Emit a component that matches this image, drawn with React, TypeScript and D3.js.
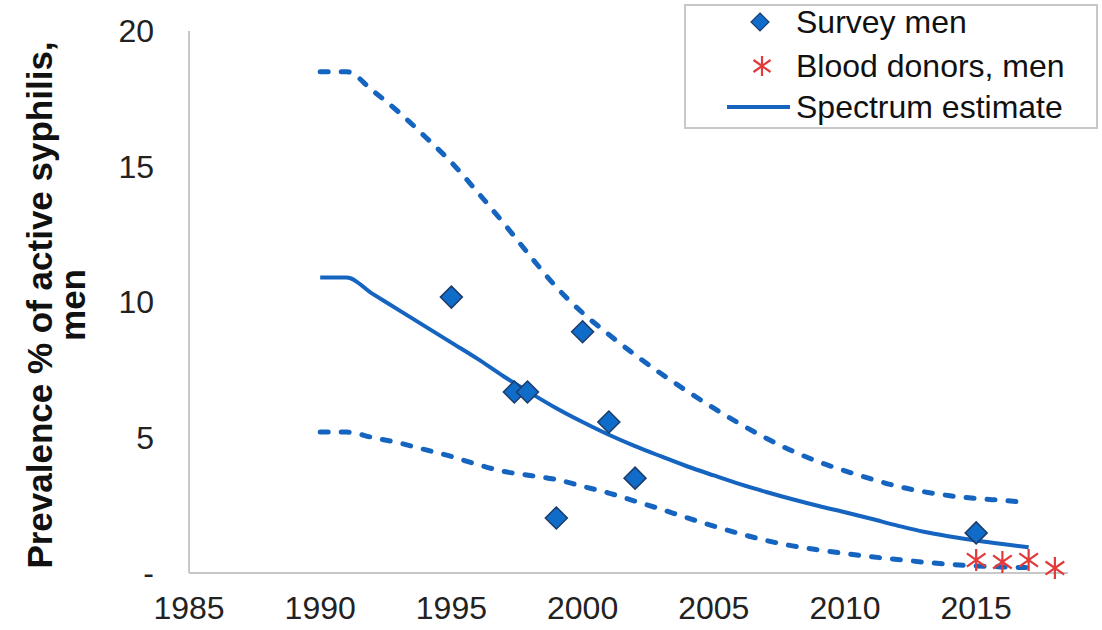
import React from "react";
import * as d3 from "d3";

const years = [1990, 1991, 1992, 1993, 1994, 1995, 1996, 1997, 1998, 1999, 2000, 2001, 2002, 2003, 2004, 2005, 2006, 2007, 2008, 2009, 2010, 2011, 2012, 2013, 2014, 2015, 2016, 2017];
const estimate = [10.9, 10.9, 10.3, 9.7, 9.1, 8.5, 7.9, 7.25, 6.65, 6.08, 5.57, 5.1, 4.68, 4.3, 3.93, 3.6, 3.28, 2.99, 2.72, 2.47, 2.24, 2.0, 1.75, 1.52, 1.35, 1.2, 1.07, 0.95];
const upper = [18.5, 18.5, 17.8, 17.0, 16.1, 15.15, 14.05, 12.9, 11.7, 10.55, 9.6, 8.8, 8.05, 7.35, 6.7, 6.08, 5.5, 4.97, 4.5, 4.1, 3.77, 3.47, 3.2, 3.0, 2.85, 2.75, 2.68, 2.6];
const lower = [5.2, 5.2, 5.0, 4.8, 4.55, 4.3, 4.0, 3.75, 3.6, 3.45, 3.2, 2.95, 2.65, 2.35, 2.03, 1.73, 1.45, 1.2, 1.0, 0.85, 0.72, 0.6, 0.5, 0.4, 0.32, 0.26, 0.22, 0.2];

const surveyYears = [1995, 1997.4, 1997.9, 1999, 2000, 2001, 2002, 2015];
const surveyValues = [10.18, 6.68, 6.68, 2.03, 8.9, 5.57, 3.5, 1.48];

const donorYears = [2015, 2016, 2017, 2018];
const donorValues = [0.48, 0.41, 0.48, 0.18];

const xTicks = [1985, 1990, 1995, 2000, 2005, 2010, 2015];
const yTicks = [0, 5, 10, 15, 20];
const yTickLabels = ["-", "5", "10", "15", "20"];

const legendLabels = ["Survey men", "Blood donors, men", "Spectrum estimate"];

const BLUE = "#1464c0";
const FONT = "'Liberation Sans', Arial, sans-serif";

export default function App() {
  const x = d3.scaleLinear().domain([1985, 2018.5]).range([189, 1068]);
  const y = d3.scaleLinear().domain([0, 20]).range([573, 31]);

  const line = d3
    .line<number>()
    .x((_, i) => x(years[i]))
    .y((d) => y(d))
    .curve(d3.curveMonotoneX);

  const diamond = (cx: number, cy: number, r: number) =>
    `M${cx},${cy - r}L${cx + r},${cy}L${cx},${cy + r}L${cx - r},${cy}Z`;
  const star = (cx: number, cy: number, r: number) =>
    `M${cx},${cy - r}L${cx},${cy + r}M${cx - r * 0.85},${cy - r * 0.6}L${cx + r * 0.85},${cy + r * 0.6}M${cx - r * 0.85},${cy + r * 0.6}L${cx + r * 0.85},${cy - r * 0.6}`;

  return (
    <svg width={1102} height={630} style={{ position: "absolute", left: 0, top: 0, background: "#fff" }} fontFamily={FONT}>
      <rect x={0} y={0} width={1102} height={630} fill="#fff" />
      {/* axes */}
      <line x1={x(1985)} x2={x(1985)} y1={y(20)} y2={y(0)} stroke="#c8c8c8" strokeWidth={2} />
      <line x1={x(1985)} x2={x(2018.5)} y1={y(0)} y2={y(0)} stroke="#c8c8c8" strokeWidth={2} />
      {yTicks.map((t, i) => (
        <text key={t} x={154} y={y(t)} dy="0.35em" textAnchor="end" fontSize={32} fill="#222">
          {yTickLabels[i]}
        </text>
      ))}
      {xTicks.map((t) => (
        <text key={t} x={x(t)} y={619} textAnchor="middle" fontSize={32} fill="#222">
          {t}
        </text>
      ))}
      <g transform="translate(40,305) rotate(-90)">
        <text x={0} y={0} dy="0.35em" textAnchor="middle" fontSize={35} fontWeight="bold" fill="#111">
          Prevalence % of active syphilis,
        </text>
        <text x={0} y={33} dy="0.35em" textAnchor="middle" fontSize={35} fontWeight="bold" fill="#111">
          men
        </text>
      </g>
      {/* lines */}
      <path d={line(upper) || ""} fill="none" stroke={BLUE} strokeWidth={5} strokeDasharray="8 13" strokeLinecap="round" />
      <path d={line(lower) || ""} fill="none" stroke={BLUE} strokeWidth={5} strokeDasharray="8 13" strokeLinecap="round" />
      <path d={line(estimate) || ""} fill="none" stroke={BLUE} strokeWidth={4} />
      {/* survey markers */}
      {surveyYears.map((yr, i) => (
        <path key={i} d={diamond(x(yr), y(surveyValues[i]), 11)} fill="#0f6cc8" stroke="#1d3c6a" strokeWidth={1.5} />
      ))}
      {/* donor markers */}
      {donorYears.map((yr, i) => (
        <path key={i} d={star(x(yr), y(donorValues[i]), 11)} fill="none" stroke="#e23a3a" strokeWidth={2.2} />
      ))}
      {/* legend */}
      <rect x={685} y={5} width={412} height={123} fill="#fff" stroke="#c8c8c8" strokeWidth={2} />
      <path d={diamond(760, 22, 9)} fill="#0f6cc8" stroke="#1d3c6a" strokeWidth={1.2} />
      <path d={star(762, 66, 10)} fill="none" stroke="#e23a3a" strokeWidth={2.2} />
      <line x1={727} x2={790} y1={107} y2={107} stroke={BLUE} strokeWidth={4} />
      {legendLabels.map((l, i) => (
        <text key={l} x={796} y={[33, 77, 118][i]} fontSize={32} fill="#111">
          {l}
        </text>
      ))}
    </svg>
  );
}
